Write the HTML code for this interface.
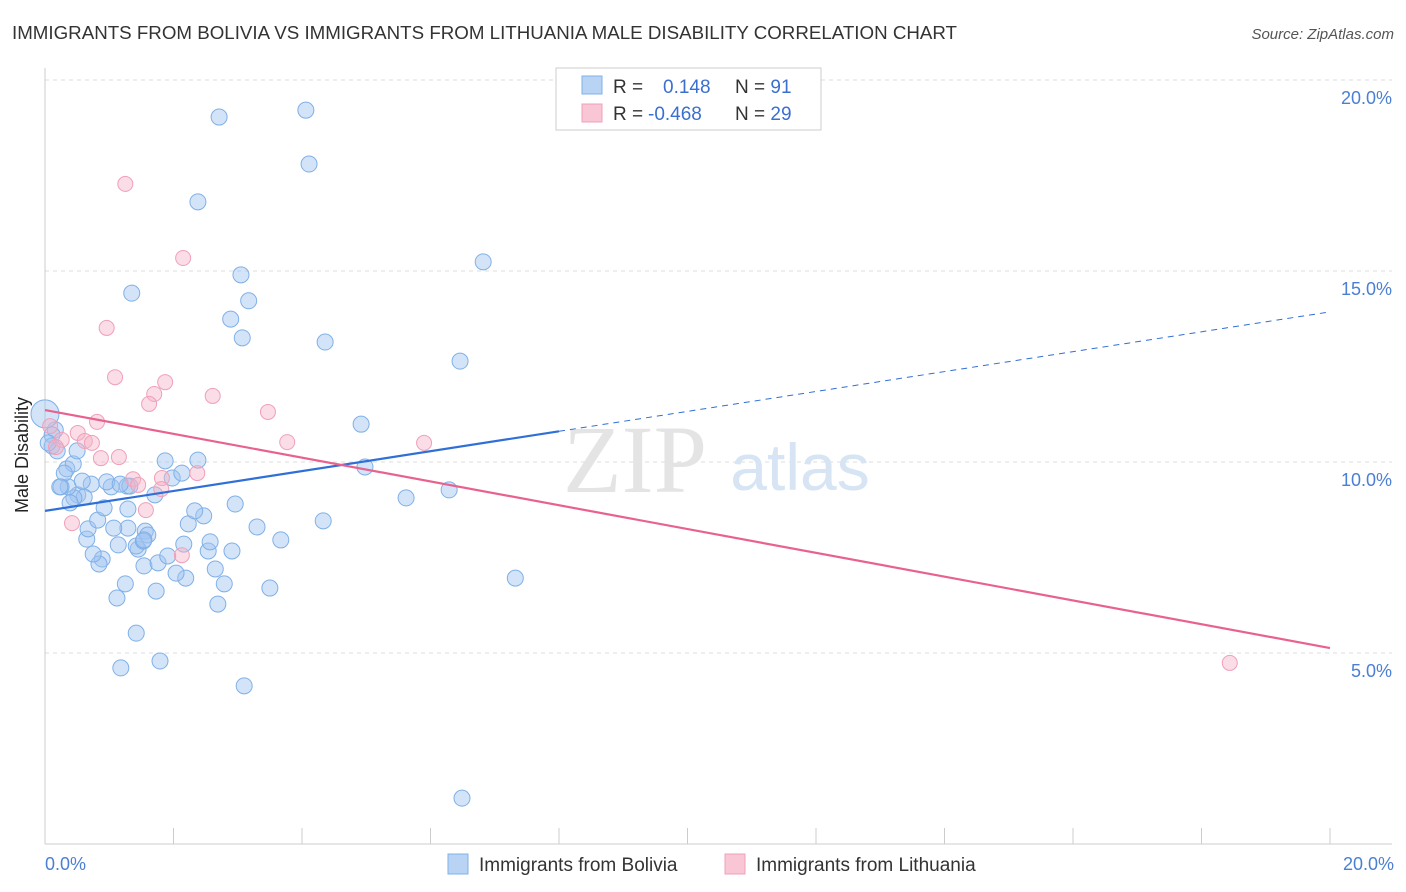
<!DOCTYPE html>
<html><head><meta charset="utf-8"><style>
body{margin:0;background:#fff;font-family:"Liberation Sans",sans-serif}
svg{display:block}
</style></head><body>
<svg width="1406" height="892">
<text x="12" y="39" font-size="18" fill="#333" textLength="945" lengthAdjust="spacingAndGlyphs">IMMIGRANTS FROM BOLIVIA VS IMMIGRANTS FROM LITHUANIA MALE DISABILITY CORRELATION CHART</text>
<text x="1394" y="39" font-size="15" fill="#555" font-style="italic" text-anchor="end">Source: ZipAtlas.com</text>
<g id="grid"></g>
<text x="635" y="492" font-size="96" fill="#e4e4e4" font-family="Liberation Serif" text-anchor="middle">ZIP</text>
<text x="800" y="490" font-size="66" fill="#d6e4f4" text-anchor="middle">atlas</text>
<g id="pts"></g>
<g id="lines"></g>
<text x="28" y="455" font-size="18" fill="#222" text-anchor="middle" transform="rotate(-90 28 455)">Male Disability</text>
<text x="45" y="870" font-size="18" fill="#4a7fd4">0.0%</text>
<text x="1394" y="870" font-size="18" fill="#4a7fd4" text-anchor="end">20.0%</text>
<g>
<rect x="556" y="68" width="265" height="62" fill="#fff" stroke="#ccc"/>
<rect x="582" y="76" width="20" height="18" fill="#b8d3f4" stroke="#7fb0e8"/>
<rect x="582" y="104" width="20" height="18" fill="#f9c6d6" stroke="#f0a0b8"/>
<text x="613" y="93" font-size="19" fill="#333">R = <tspan fill="#3a6fd0" x="663">0.148</tspan><tspan x="735">N = </tspan><tspan fill="#3a6fd0">91</tspan></text>
<text x="613" y="120" font-size="19" fill="#333">R = <tspan fill="#3a6fd0" x="648">-0.468</tspan><tspan x="735">N = </tspan><tspan fill="#3a6fd0">29</tspan></text>
</g>
<g>
<rect x="448" y="854" width="20" height="20" fill="#b8d3f4" stroke="#7fb0e8"/>
<text x="479" y="871" font-size="19" fill="#333">Immigrants from Bolivia</text>
<rect x="725" y="854" width="20" height="20" fill="#f9c6d6" stroke="#f0a0b8"/>
<text x="756" y="871" font-size="19" fill="#333">Immigrants from Lithuania</text>
</g>
</svg>
<script>
const yTicks=[5,10,15,20];
const xTickCount=10;
const bolivia=[[2.71,19.03],[4.06,19.21],[4.11,17.80],[2.38,16.81],[6.82,15.24],[3.05,14.90],[1.35,14.42],[3.17,14.22],[2.89,13.74],[3.07,13.25],[4.36,13.14],[6.46,12.64],[4.92,10.99],[4.98,9.87],[5.62,9.06],[6.29,9.27],[4.33,8.46],[7.32,6.96],[6.49,1.20],[3.10,4.14],[1.79,4.79],[1.18,4.61],[1.42,5.52],[1.12,6.44],[1.73,6.62],[1.25,6.81],[2.69,6.28],[2.79,6.81],[3.50,6.70],[2.65,7.20],[2.19,6.96],[2.04,7.09],[1.54,7.28],[1.76,7.36],[1.91,7.54],[2.91,7.67],[2.54,7.67],[2.57,7.91],[2.16,7.85],[1.45,7.72],[1.42,7.80],[1.14,7.83],[0.89,7.46],[0.84,7.33],[0.75,7.59],[0.65,7.98],[0.67,8.25],[0.82,8.48],[0.92,8.80],[1.29,8.77],[1.29,8.27],[1.56,8.19],[1.60,8.09],[1.53,7.93],[1.07,8.27],[2.23,8.38],[2.47,8.59],[2.33,8.72],[2.96,8.90],[3.30,8.30],[3.67,7.96],[1.71,9.14],[1.98,9.58],[2.13,9.71],[1.87,10.03],[2.38,10.05],[1.28,9.37],[1.03,9.35],[0.96,9.48],[0.72,9.42],[0.51,9.14],[0.61,9.08],[0.45,9.06],[0.39,8.93],[0.36,9.35],[0.25,9.35],[0.58,9.50],[0.34,9.82],[0.44,9.95],[0.30,9.71],[0.50,10.29],[0.16,10.84],[0.11,10.71],[0.11,10.42],[0.19,10.29],[0.05,10.50],[0.0,11.26],[0.23,9.35],[1.32,9.37],[1.54,7.96],[1.17,9.42]];
const lithuania=[[1.25,17.28],[2.15,15.34],[0.96,13.51],[1.09,12.22],[1.87,12.09],[1.70,11.78],[1.62,11.52],[2.61,11.73],[3.47,11.31],[0.81,11.05],[0.51,10.76],[3.77,10.52],[5.90,10.50],[0.26,10.58],[0.62,10.55],[0.73,10.50],[0.17,10.39],[0.87,10.10],[1.15,10.13],[1.82,9.58],[1.37,9.55],[1.45,9.40],[2.37,9.71],[1.81,9.29],[1.57,8.74],[0.42,8.40],[2.13,7.56],[18.44,4.74],[0.08,10.94]];
const boliviaLine=[8.72,13.93];
const lithuaniaLine=[11.36,5.13];
const NS='http://www.w3.org/2000/svg';
const X=v=>45+v*64.25, Y=v=>844-v*38.2;
function mk(t,a,p){const e=document.createElementNS(NS,t);for(const k in a)e.setAttribute(k,a[k]);p.appendChild(e);return e;}
const g=document.getElementById('grid');
yTicks.forEach(t=>{
 const l=mk('line',{x1:45,x2:1392,y1:Y(t),y2:Y(t),stroke:'#ddd','stroke-dasharray':'4 4'},g);
 
 
 const tx=mk('text',{x:1392,y:Y(t)+24,'font-size':18,fill:'#4a7fd4','text-anchor':'end'},g);
 tx.textContent=t.toFixed(1)+'%';
 
 
});
mk('line',{x1:45,x2:45,y1:68,y2:844,stroke:'#ccc'},g);
mk('line',{x1:45,x2:1392,y1:844,y2:844,stroke:'#ccc'},g);
for(let i=0;i<=xTickCount;i++){const t=mk('line',{x1:X(i*2),x2:X(i*2),y1:828,y2:844,stroke:'#ccc'},g);
 
 }
const P=document.getElementById('pts');
bolivia.forEach((d,i)=>{const c=mk('circle',{cx:X(d[0]),cy:Y(d[1]),r:i==86?14:8,fill:'rgba(160,196,240,0.45)',stroke:'#7fb0e8','stroke-width':1},P);
 
 });
lithuania.forEach(d=>{const c=mk('circle',{cx:X(d[0]),cy:Y(d[1]),r:7.5,fill:'rgba(245,180,200,0.45)',stroke:'#f0a0b8','stroke-width':1},P);
 
 });
const L=document.getElementById('lines');
const bAt=x=>boliviaLine[0]+(boliviaLine[1]-boliviaLine[0])*x/20;
const b1=mk('line',{x1:X(0),y1:Y(bAt(0)),x2:X(8),y2:Y(bAt(8)),stroke:'#2f6fd6','stroke-width':2.2},L);


const b2=mk('line',{x1:X(8),y1:Y(bAt(8)),x2:X(20),y2:Y(bAt(20)),stroke:'#2f6fd6','stroke-width':1,'stroke-dasharray':'6 5'},L);


const p1=mk('line',{x1:X(0),y1:Y(lithuaniaLine[0]),x2:X(20),y2:Y(lithuaniaLine[1]),stroke:'#e8628f','stroke-width':2.2},L);


</script>
</body></html>
